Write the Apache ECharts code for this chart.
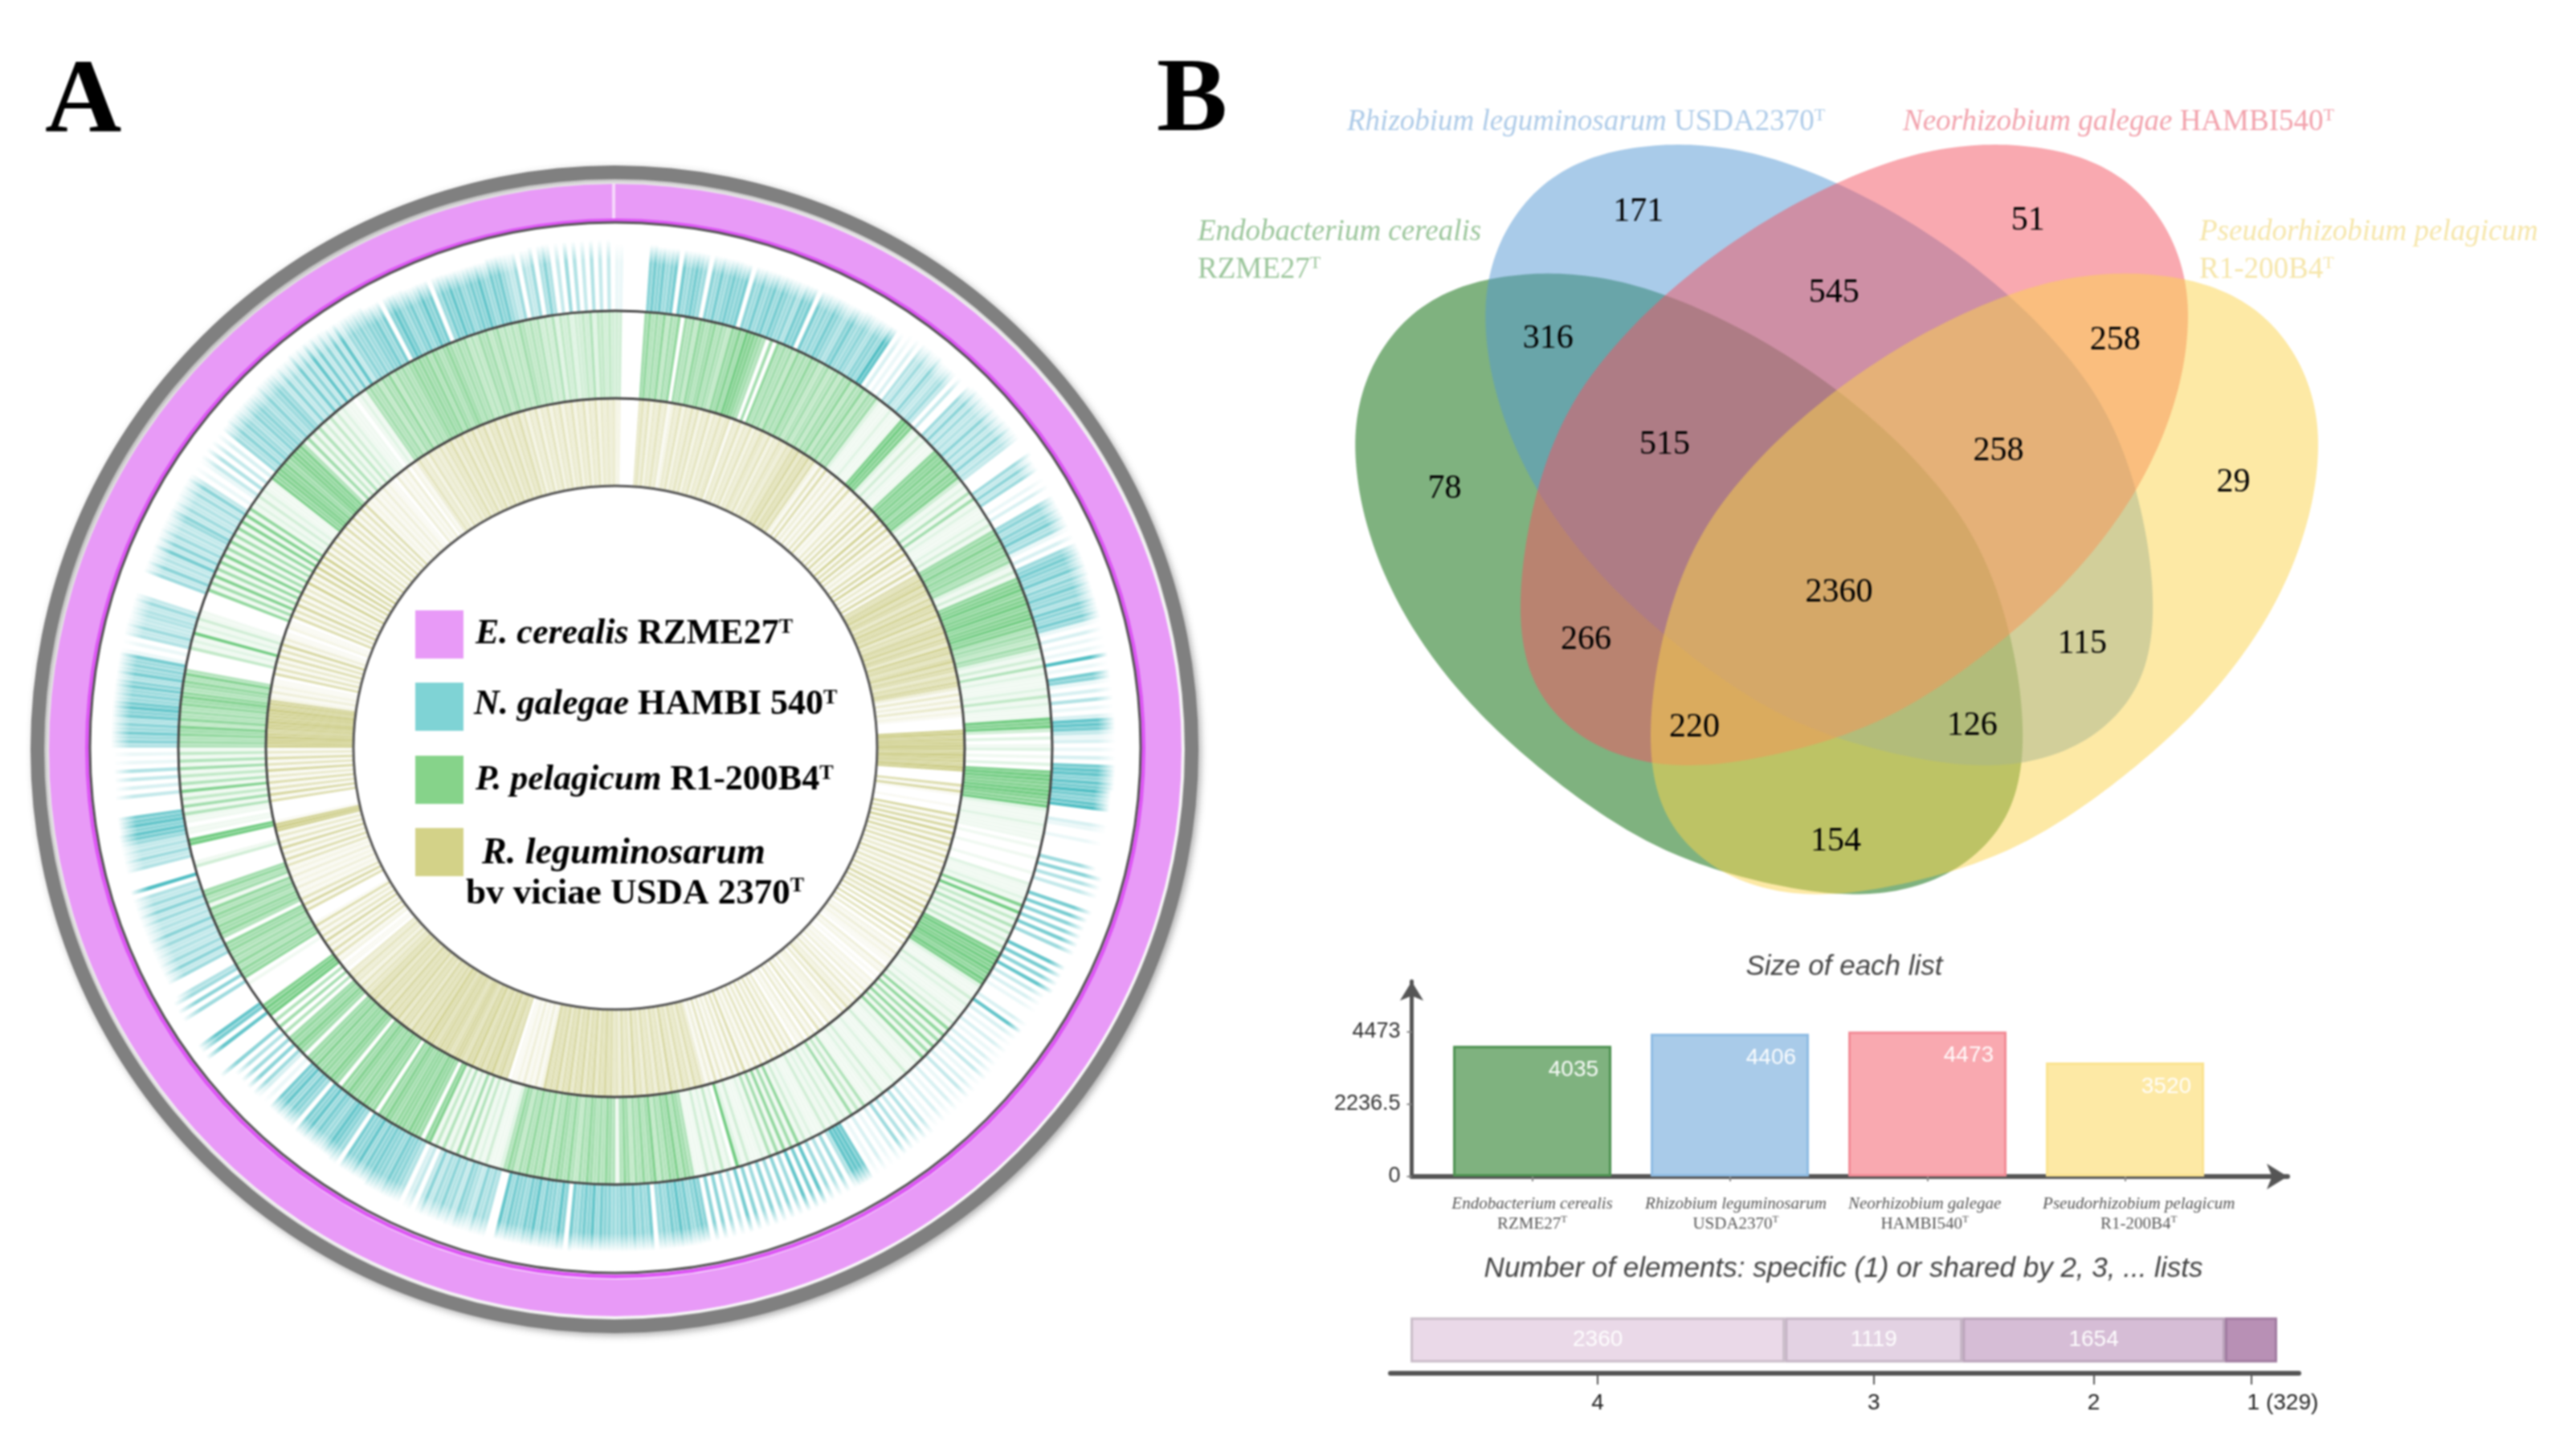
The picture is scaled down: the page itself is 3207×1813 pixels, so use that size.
<!DOCTYPE html>
<html><head><meta charset="utf-8">
<style>html,body{margin:0;padding:0;background:#fff}#c{width:3207px;height:1813px}#c canvas{filter:blur(0.8px)}</style>
<script src="https://cdn.jsdelivr.net/npm/echarts@6/dist/echarts.min.js"></script>
</head><body><div id="c"></div>
<script>
// ---- DATA ----
var ringNames = ['E. cerealis RZME27','N. galegae HAMBI 540','P. pelagicum R1-200B4','R. leguminosarum bv viciae USDA 2370'];
// gene-hit intensity 0-9, clockwise from 12 o'clock, one string per 30 degrees
var tealHits = [
"110000006767567075676506575676670657567576564767075657654675",
"56546659802010204353364345303005363534363535363430000536350010200",
"564657451020567657465756476575102010109010761020401028873120",
"102078868797689000210010000050604030007070606070500080706080",
"30201000208020102010202030102030102010201030403040502010201078",
"884050405080708050605060506070405060606765768675650756575665",
"566758676570685667586756675800454634563546453630320456675667",
"675866705678656758670567586701025060504060000807800000050605",
"400053635343536343536353409000043534357868770000302030401010",
"465756476875657647565710104353344353000005363437363534356353",
"435363010130403020546465465654645653635373638373637383565656",
"675706875675686705768675676865767543504350464030504030403030"];
var greenHits = [
"33000000675657465706564765675654768698876506075656475657564564",
"564657465746562111211189882131211178787868783121516121112131",
"676867675621317889788978897856546521315121112141211198930201",
"201020899889988921112111101001000100211121819141514131418989",
"898798211131211121317171617161712111311121113121115141612131",
"213111213171617161512111312902141213111567586756486575646751",
"567565675645756756475657564675211131214151613151418706778677",
"767867076786767867067867768676067867605060509898000000107675",
"756576705767567571657600000031000099011011516141815141615141",
"565768475657687567585000004121912131100000716181617181617161",
"718181712131211187887867887851614151314131211101215656465746",
"565676767576567656564546564564545465454534352434233435244343"];
var oliveHits = [
"22000000453524353412435243535243524353451435243524354352435435",
"465746574621516131413151612141516171418161715131617181415171",
"657685764758675846576857648675685764657631413141210000897889",
"879887980000617100010071617181617151615141614151416151716151",
"605060504021312110312010212130314132514032214031503140312041",
"415141514151413161514131415131354635463547354635463547354635",
"465756475647564756475657213121312110657658675765867567765676",
"765768575657465647565746564756453524353401102151614171514161",
"000061715121312131215161417151418981000000617151614171516141",
"888987889888978721312110615141615171311021106151715161418151",
"718171816151615141615161415161213121312110312130213534253435",
"354635463546354635463546354635243524352435243524352435243434"];
// outer reach of the hit lines in the outer ring, one value per 5 degrees
var tealReach = [628,626,626,625,625,626,628,633,630,633,634,630,628,628,626,624,623,623,623,620,617,628,626,624,
618,617,619,620,622,625,625,626,627,627,628,628,628,630,630,631,630,628,625,622,621,623,639,636,
630,630,630,628,626,625,628,628,628,627,627,628,629,630,632,634,636,634,630,628,627,630,633,633];
var vennSets = ['Endobacterium cerealis','Rhizobium leguminosarum','Neorhizobium galegae','Pseudorhizobium pelagicum'];
var vennStrains = ['RZME27','USDA2370','HAMBI540','R1-200B4'];
var vennCounts = [171,51,316,545,258,515,258,78,29,2360,266,115,220,126,154];
var listSizes = [4035,4406,4473,3520];
var sizeTicks = [0,2236.5,4473];
var sharedBy = ['4','3','2','1 (329)'];
var sharedCounts = [2360,1119,1654,329];

// ---- helpers ----
var SERIF='Liberation Serif', SANS='Liberation Sans';
function hitRows(chunks, inner, outer){
  var rows=[];
  chunks.forEach(function(s,ci){
    var w=30/s.length;
    for(var i=0;i<s.length;i++){
      var lv=+s.charAt(i); if(!lv) continue;
      var a=ci*30+i*w;
      var r1=outer?outer[Math.floor((a+w/2)/5)]:inner[1];
      rows.push([inner[0],r1,a,a+w*0.88,lv]);
    }
  });
  return rows;
}
function wedgeSeries(name,rows,rgb,fade,gain){
  return {type:'custom',name:name,coordinateSystem:'polar',silent:true,z:3,animation:false,progressive:0,
    data:rows,
    renderItem:function(p,api){
      var r0=api.value(0),r1=api.value(1),a0=api.value(2),a1=api.value(3),lv=api.value(4);
      var pts=[[r0,a0],[r1,a0],[r1,a1],[r0,a1]].map(function(q){var c=api.coord(q);return [c[0],c[1]];});
      var al=(lv/9*gain).toFixed(3), col='rgba('+rgb+','+al+')', fill=col;
      if(fade){
        var c=api.coord([0,0]), R=Math.hypot(pts[1][0]-c[0],pts[1][1]-c[1]);
        var k=r0/r1, m=k+(1-k)*0.72;
        fill={type:'radial',x:c[0],y:c[1],r:R,global:true,colorStops:[
          {offset:0,color:col},{offset:m,color:col},{offset:1,color:'rgba('+rgb+',0)'}]};
      }
      return {type:'polygon',shape:{points:pts},style:{fill:fill}};
    }};
}
function ringPie(c,r0,r1,data,extra){
  return Object.assign({type:'pie',center:c,radius:[r0,r1],startAngle:90,silent:true,animation:false,z:2,
    label:{show:false},labelLine:{show:false},emphasis:{disabled:true},data:data},extra||{});
}
function tx(x,y,formatter,style,align){
  return {value:[x,y],label:Object.assign({show:true,position:'inside',align:align||'left',verticalAlign:'middle',formatter:formatter},style)};
}
var sup=function(size,color){return {fontSize:size,fontFamily:SERIF,color:color,verticalAlign:'top',lineHeight:size};};
function textLayer(name,rows){
  return {type:'scatter',name:name,xAxisIndex:0,yAxisIndex:0,symbolSize:0,silent:true,z:6,itemStyle:{opacity:1},data:rows};
}

// ---- venn: one egg outline, shifted and mirrored for the four sets ----
var eggTrace=[[470,155],[600,165],[750,205],[950,300],[1110,410],[1230,510],[1350,640],[1430,770],[1490,945],[1518,1150],[1500,1290],[1440,1400],[1320,1480],[1200,1503],[1090,1505],[930,1475],[780,1430],[640,1360],[500,1260],[370,1150],[260,1030],[170,900],[110,770],[75,650],[62,530],[75,420],[130,300],[230,210],[345,170]];
function smoothLoop(src){
  var n=src.length,dense=[],S=10,i,j,t;
  for(i=0;i<n;i++){
    var p0=src[(i+n-1)%n],p1=src[i],p2=src[(i+1)%n],p3=src[(i+2)%n];
    for(j=0;j<S;j++){ t=j/S;
      dense.push([0,1].map(function(d){return 0.5*(2*p1[d]+(p2[d]-p0[d])*t+(2*p0[d]-5*p1[d]+4*p2[d]-p3[d])*t*t+(3*p1[d]-p0[d]-3*p2[d]+p3[d])*t*t*t);}));
    }
  }
  var m=dense.length,W=8,out=[];
  for(i=0;i<m;i++){ var x=0,y=0;
    for(j=-W;j<=W;j++){x+=dense[(i+j+m)%m][0];y+=dense[(i+j+m)%m][1];}
    out.push([x/(2*W+1),y/(2*W+1)]);
  }
  return out;
}
var egg=smoothLoop(eggTrace).map(function(p){return [1650+p[0]/1.742,250+p[1]/1.742];});
var AXIS=2286.6;
var vennShapes=[{dx:0,dy:0,flip:false,fill:'rgba(0,101,0,0.5)'},{dx:162,dy:-160.5,flip:false,fill:'rgba(83,151,211,0.5)'},
                {dx:162,dy:-160.5,flip:true,fill:'rgba(243,83,97,0.5)'},{dx:0,dy:0,flip:true,fill:'rgba(251,211,75,0.5)'}];
var vennSpots=[[997,129],[1234,134],[942,206],[1116,178],[1287,207],[1013,270],[1216,274],[879,297],[1359,293],[1119,360],[965,389],[1267,391],[1031,442],[1200,441],[1117,511]];
var KX=2.046,KY=2.05;
var vennNumberRows=vennCounts.map(function(n,i){
  return tx(vennSpots[i][0]*KX,vennSpots[i][1]*KY,String(n),{fontFamily:SERIF,fontSize:42,color:'#000'},'center');});
var setStyle=function(c){return {fontFamily:SERIF,fontSize:37,color:c,rich:{
  i:{fontFamily:SERIF,fontStyle:'italic',fontSize:37,color:c},n:{fontFamily:SERIF,fontSize:37,color:c},s:sup(22,c)}};};
var setCols=['#9cc69c','#aecbe8','#f2a3ad','#f6e6ab'];
var annoRows=[
  tx(56,130,'A',{fontFamily:SERIF,fontWeight:'bold',fontSize:132,color:'#000'}),
  tx(1440,128,'B',{fontFamily:SERIF,fontWeight:'bold',fontSize:132,color:'#000'}),
  tx(1677,152,'{i|'+vennSets[1]+'} {n|'+vennStrains[1]+'}{s|T}',setStyle(setCols[1])),
  tx(2369,152,'{i|'+vennSets[2]+'} {n|'+vennStrains[2]+'}{s|T}',setStyle(setCols[2])),
  tx(1491,289,'{i|'+vennSets[0]+'}',setStyle(setCols[0])),
  tx(1491,336,'{n|'+vennStrains[0]+'}{s|T}',setStyle(setCols[0])),
  tx(2738,289,'{i|'+vennSets[3]+'}',setStyle(setCols[3])),
  tx(2738,336,'{n|'+vennStrains[3]+'}{s|T}',setStyle(setCols[3])),
  tx(2296,1204,'Size of each list',{fontFamily:SANS,fontStyle:'italic',fontSize:35,color:'#444'},'center'),
  tx(2295,1580,'Number of elements: specific (1) or shared by 2, 3, ... lists',{fontFamily:SANS,fontStyle:'italic',fontSize:35,color:'#444'},'center')
];
function lgFont(size){
  var b={fontFamily:SERIF,fontWeight:'bold',fontSize:size,color:'#000'};
  return Object.assign({},b,{rich:{b:b,i:Object.assign({},b,{fontStyle:'italic'}),s:Object.assign(sup(26,'#000'),{fontWeight:'bold'})}});
}
var legendRows=[
  tx(592,790,'{i|E. cerealis} {b|RZME27}{s|T}',lgFont(44)),
  tx(590,878,'{i|N. galegae} {b|HAMBI 540}{s|T}',lgFont(44)),
  tx(592,972,'{i|P. pelagicum} {b|R1-200B4}{s|T}',lgFont(44)),
  tx(600,1063,'{i|R. leguminosarum}',lgFont(46)),
  tx(580,1113,'{b|bv viciae USDA 2370}{s|T}',lgFont(45))
];
var swatchCols=['#E89AF7','#7FD3D5','#86D38A','#D3D288'];
var swatchSpots=[[547,790],[547,880],[547,971],[547,1061]];

// ---- bar panel ----
var listCols=[{f:'#7fb27f',b:'#4c9150'},{f:'#a9cbe9',b:'#8dbbe3'},{f:'#f9a9b0',b:'#f28a95'},{f:'#fde9a5',b:'#fbe390'}];
var listLabelAt=[0,1.03,1.986,3.07];
var stackCols=['#ead9e8','#e3d2e3','#d6bdd6','#b890b5'];
var stackEdge=['#c9bcc8','#c4b3c4','#b9a3b9','#a07ba0'];
var run=0, sharedMid=sharedCounts.map(function(v){var m=run+v/2;run+=v;return m;});
var sharedLabelAt=sharedMid.slice(); sharedLabelAt[3]+=200;

var option={
  backgroundColor:'#fff',animation:false,
  grid:[{left:0,top:0,width:3207,height:1813,show:false},
        {left:1757.5,top:1222,width:1090.5,height:243,show:false},
        {left:1731,top:1627,width:1131,height:83,show:false}],
  xAxis:[
    {gridIndex:0,type:'value',min:0,max:3207,show:false},
    {gridIndex:1,type:'value',min:-0.61,max:3.823,splitLine:{show:false},
      axisLine:{show:true,onZero:false,lineStyle:{color:'#555',width:6},symbol:['none','arrow'],symbolSize:[24,26]},
      axisTick:{show:true,length:6,customValues:[0,1,2,3],lineStyle:{color:'#888',width:2}},
      axisLabel:{show:true,margin:22,customValues:listLabelAt,hideOverlap:false,showMinLabel:true,showMaxLabel:true,
        formatter:function(v){var i=listLabelAt.indexOf(v);return '{i|'+vennSets[i]+'}\n{n|'+vennStrains[i]+'}{s|T}';},
        rich:{i:{fontFamily:SERIF,fontStyle:'italic',fontSize:21,color:'#555',lineHeight:25},
              n:{fontFamily:SERIF,fontSize:21,color:'#555',lineHeight:25},s:sup(13,'#555')}}},
    {gridIndex:2,type:'value',min:-127,max:5599,splitLine:{show:false},
      axisLine:{show:true,onZero:false,lineStyle:{color:'#555',width:6}},
      axisTick:{show:true,length:14,customValues:sharedMid,lineStyle:{color:'#555',width:2}},
      axisLabel:{show:true,margin:23,customValues:sharedLabelAt,showMinLabel:true,showMaxLabel:true,hideOverlap:false,
        fontFamily:SANS,fontSize:28,color:'#222',formatter:function(v){return sharedBy[sharedLabelAt.indexOf(v)];}}}
  ],
  yAxis:[
    {gridIndex:0,type:'value',min:0,max:1813,inverse:true,show:false},
    {gridIndex:1,type:'value',min:0,max:6022,splitLine:{show:false},
      axisLine:{show:true,onZero:false,lineStyle:{color:'#555',width:5},symbol:['none','arrow'],symbolSize:[22,24]},
      axisTick:{show:true,length:6,customValues:sizeTicks,lineStyle:{color:'#888',width:2}},
      axisLabel:{show:true,margin:14,customValues:sizeTicks,showMinLabel:true,showMaxLabel:true,
        fontFamily:SANS,fontSize:27,color:'#333',formatter:function(v){return String(v);}}},
    {gridIndex:2,type:'category',data:['n'],show:false}
  ],
  polar:{center:[766,931],radius:730},
  radiusAxis:{type:'value',min:0,max:730,show:false},
  angleAxis:{type:'value',min:0,max:360,startAngle:90,clockwise:true,show:false},
  series:[
    ringPie([765,933],710,727,[{value:1,itemStyle:{color:'#808080',shadowBlur:8,shadowColor:'rgba(90,90,90,0.5)',shadowOffsetX:3,shadowOffsetY:3}}]),
    ringPie([766,934],659,705,[{value:359.7,itemStyle:{color:'#E89AF7'}},{value:0.3,itemStyle:{color:'#F6D9FB'}}]),
    ringPie([766,932],655,660,[{value:1,itemStyle:{color:'#DD55F5'}}]),
    ringPie([766,931],652.5,655.5,[{value:1,itemStyle:{color:'#555'}}],{z:4}),
    ringPie([766,931],542.5,545.5,[{value:1,itemStyle:{color:'#444'}}],{z:4}),
    ringPie([766,931],433.5,436.5,[{value:1,itemStyle:{color:'#444'}}],{z:4}),
    ringPie([766,931],324.5,327.5,[{value:1,itemStyle:{color:'#555'}}],{z:4}),
    wedgeSeries(ringNames[1],hitRows(tealHits,[545],tealReach),'64,184,190',true,0.9),
    wedgeSeries(ringNames[2],hitRows(greenHits,[436,545]),'92,196,110',false,0.85),
    wedgeSeries(ringNames[3],hitRows(oliveHits,[326,436]),'190,190,100',false,0.78),
    {type:'custom',xAxisIndex:0,yAxisIndex:0,silent:true,z:3,animation:false,data:vennSets.map(function(s,i){return [i];}),
      renderItem:function(p,api){
        var s=vennShapes[api.value(0)];
        var pts=egg.map(function(q){
          var x=q[0]+s.dx; if(s.flip) x=2*AXIS-x;
          var c=api.coord([x,q[1]+s.dy]); return [c[0],c[1]];});
        return {type:'polygon',shape:{points:pts},style:{fill:s.fill}};
      }},
    textLayer('venn counts',vennNumberRows),
    textLayer('annotations',annoRows),
    {type:'scatter',name:'legend swatches',xAxisIndex:0,yAxisIndex:0,symbol:'rect',symbolSize:[60,60],silent:true,z:6,itemStyle:{opacity:1},
      data:swatchSpots.map(function(p,i){return {value:p,itemStyle:{color:swatchCols[i],opacity:1}};})},
    textLayer('legend text',legendRows),
    {type:'bar',name:'Size of each list',xAxisIndex:1,yAxisIndex:1,barWidth:197,silent:true,z:4,
      data:listSizes.map(function(v,i){return {value:[i,v],itemStyle:{color:listCols[i].f,borderColor:listCols[i].b,borderWidth:3},
        label:{show:true,position:'insideTopRight',distance:16,formatter:String(v),fontFamily:SANS,fontSize:28,color:'rgba(255,255,255,0.95)'}};})}
  ].concat(sharedCounts.map(function(v,i){
    return {type:'bar',name:sharedBy[i],stack:'shared',xAxisIndex:2,yAxisIndex:2,barWidth:56,silent:true,
      data:[{value:v,itemStyle:{color:stackCols[i],borderColor:stackEdge[i],borderWidth:3},
        label:{show:i<3,position:'inside',formatter:String(v),fontFamily:SANS,fontSize:28,color:'rgba(255,255,255,0.95)'}}]};
  }))
};
var chart=echarts.init(document.getElementById('c'),null,{renderer:'canvas',width:3207,height:1813});
chart.setOption(option);
</script></body></html>
